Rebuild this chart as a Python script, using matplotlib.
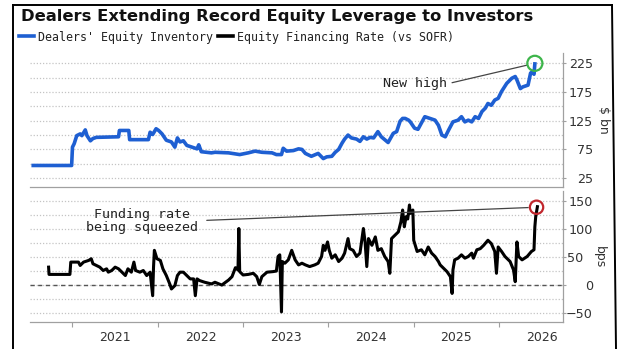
import matplotlib
matplotlib.use('Agg')
import matplotlib.pyplot as plt
from matplotlib.lines import Line2D
from matplotlib.ticker import MultipleLocator, FixedLocator, NullFormatter
from matplotlib.transforms import ScaledTranslation

W, H, DPI = 618, 349, 100

# dealers' equity inventory, $ bn (decimal year, value)
inv_t = [2020.54, 2020.99, 2021.00, 2021.02, 2021.05, 2021.09, 2021.11, 2021.15,
         2021.17, 2021.21, 2021.24, 2021.28, 2021.54, 2021.55, 2021.66, 2021.67,
         2021.89, 2021.91, 2021.94, 2021.98, 2022.01, 2022.05, 2022.10, 2022.16,
         2022.20, 2022.23, 2022.26, 2022.30, 2022.34, 2022.40, 2022.46, 2022.48,
         2022.51, 2022.63, 2022.67, 2022.83, 2022.96, 2023.06, 2023.14, 2023.22,
         2023.34, 2023.39, 2023.45, 2023.47, 2023.51, 2023.59, 2023.65, 2023.69,
         2023.73, 2023.80, 2023.88, 2023.94, 2023.98, 2024.04, 2024.08, 2024.12,
         2024.16, 2024.19, 2024.23, 2024.27, 2024.33, 2024.37, 2024.41, 2024.45,
         2024.49, 2024.53, 2024.58, 2024.62, 2024.70, 2024.76, 2024.80, 2024.84,
         2024.87, 2024.90, 2024.94, 2024.96, 2025.01, 2025.05, 2025.13, 2025.19,
         2025.25, 2025.29, 2025.33, 2025.37, 2025.41, 2025.46, 2025.52, 2025.56,
         2025.60, 2025.64, 2025.68, 2025.72, 2025.76, 2025.80, 2025.84, 2025.87,
         2025.91, 2025.95, 2025.99, 2026.03, 2026.09, 2026.15, 2026.19, 2026.21,
         2026.25, 2026.28, 2026.34, 2026.37, 2026.39, 2026.41, 2026.42]
inv_v = [47, 47, 79, 85, 99, 102, 99, 109,
         99, 90, 94, 96, 97, 108, 108, 92,
         92, 105, 101, 111, 108, 102, 91, 88,
         79, 95, 88, 90, 82, 79, 76, 83,
         71, 69, 70, 69, 66, 69, 72, 70,
         69, 66, 66, 77, 72, 73, 76, 75,
         68, 63, 68, 59, 62, 63, 70, 75,
         86, 93, 100, 95, 93, 89, 97, 93,
         96, 95, 106, 97, 87, 103, 106, 124,
         129, 129, 126, 123, 112, 110, 132, 129,
         126, 117, 100, 97, 109, 123, 126, 132,
         123, 126, 123, 132, 129, 141, 147, 155,
         152, 161, 164, 176, 190, 199, 202, 196,
         181, 184, 187, 208, 210, 206, 224]

# equity financing rate vs SOFR, bps (decimal year, value)
rate_t = [2020.72, 2020.725, 2020.97, 2020.98, 2021.07, 2021.09, 2021.13, 2021.19,
          2021.22, 2021.24, 2021.28, 2021.32, 2021.36, 2021.40, 2021.42, 2021.46,
          2021.50, 2021.54, 2021.58, 2021.62, 2021.65, 2021.69, 2021.72, 2021.74,
          2021.79, 2021.83, 2021.87, 2021.91, 2021.94, 2021.95, 2021.96, 2021.99,
          2022.03, 2022.06, 2022.10, 2022.14, 2022.16, 2022.20, 2022.23, 2022.26,
          2022.30, 2022.34, 2022.38, 2022.42, 2022.44, 2022.46, 2022.49, 2022.55,
          2022.63, 2022.67, 2022.75, 2022.83, 2022.87, 2022.91, 2022.94, 2022.95,
          2022.96, 2023.00, 2023.06, 2023.12, 2023.16, 2023.19, 2023.22, 2023.28,
          2023.35, 2023.39, 2023.41, 2023.43, 2023.45, 2023.46, 2023.49, 2023.53,
          2023.57, 2023.61, 2023.65, 2023.69, 2023.73, 2023.78, 2023.84, 2023.88,
          2023.92, 2023.94, 2023.96, 2023.99, 2024.01, 2024.04, 2024.08, 2024.12,
          2024.16, 2024.19, 2024.23, 2024.25, 2024.29, 2024.33, 2024.37, 2024.41,
          2024.43, 2024.45, 2024.47, 2024.51, 2024.55, 2024.58, 2024.62, 2024.66,
          2024.70, 2024.72, 2024.74, 2024.78, 2024.82, 2024.85, 2024.87, 2024.89,
          2024.91, 2024.93, 2024.95, 2024.96, 2024.99, 2025.00, 2025.04, 2025.09,
          2025.13, 2025.17, 2025.21, 2025.25, 2025.29, 2025.31, 2025.35, 2025.39,
          2025.43, 2025.45, 2025.46, 2025.48, 2025.52, 2025.56, 2025.60, 2025.64,
          2025.68, 2025.70, 2025.74, 2025.78, 2025.82, 2025.87, 2025.91, 2025.95,
          2025.97, 2025.99, 2026.03, 2026.07, 2026.13, 2026.17, 2026.19, 2026.21,
          2026.23, 2026.27, 2026.33, 2026.38, 2026.41, 2026.42, 2026.43, 2026.45]
rate_v = [32, 19, 19, 41, 41, 35, 41, 44,
          47, 38, 35, 32, 26, 29, 23, 26,
          32, 29, 23, 17, 29, 23, 41, 26,
          23, 26, 17, 23, -19, 32, 62, 47,
          44, 29, 17, 2, -7, -1, 17, 23,
          23, 17, 11, 11, -19, 11, 8, 5,
          2, 5, 0, 9, 15, 31, 27, 101,
          24, 18, 19, 21, 15, 1, 15, 23,
          24, 25, 51, 54, -48, 42, 39, 45,
          62, 45, 36, 39, 36, 33, 36, 39,
          51, 71, 62, 77, 62, 48, 54, 42,
          48, 57, 83, 65, 62, 51, 57, 101,
          77, 33, 83, 71, 86, 62, 65, 51,
          42, 21, 83, 89, 95, 113, 134, 104,
          122, 118, 143, 128, 134, 80, 60, 63,
          54, 68, 57, 51, 42, 36, 30, 24,
          15, -15, 27, 45, 48, 54, 48, 51,
          57, 48, 63, 65, 71, 80, 74, 60,
          21, 68, 60, 51, 42, 27, 6, 77,
          51, 45, 51, 60, 63, 104, 122, 140]

years = [2021, 2022, 2023, 2024, 2025, 2026]
year_labels = [str(y) for y in years]
inv_ticks = [25, 75, 125, 175, 225]
rate_ticks = [-50, 0, 50, 100, 150]

BLUE = '#1e5fd2'
GRID = '#c4c4c4'
AXIS = '#a0a0a0'
TEXT = '#333333'
MONO = 'DejaVu Sans Mono'

fig = plt.figure(figsize=(W / DPI, H / DPI), dpi=DPI)


def px_box(left, top, right, bottom):
    return [left / W, 1 - bottom / H, (right - left) / W, (bottom - top) / H]


ax1 = fig.add_axes(px_box(30, 53, 563, 187))
ax2 = fig.add_axes(px_box(30, 191, 563, 322), sharex=ax1)


def style_axis(ax, ticks, step):
    for side in ('top', 'left'):
        ax.spines[side].set_visible(False)
    for side in ('bottom', 'right'):
        ax.spines[side].set_color(AXIS)
        ax.spines[side].set_linewidth(0.9)
    ax.yaxis.tick_right()
    ax.yaxis.set_major_locator(FixedLocator(ticks))
    ax.yaxis.set_minor_locator(MultipleLocator(step))
    ax.grid(axis='y', which='both', color=GRID, linestyle=(0, (1, 1.5)),
            linewidth=0.9)
    ax.tick_params(axis='y', which='major', length=2.5, color=AXIS,
                   labelsize=9.2, labelcolor=TEXT, pad=19)
    ax.tick_params(axis='y', which='minor', length=0)
    for lab in ax.get_yticklabels():
        lab.set_horizontalalignment('right')
    ax.set_axisbelow(True)


style_axis(ax1, inv_ticks, 25)
style_axis(ax2, rate_ticks, 25)

# the 50 label steps aside for the unit label
nudge = ScaledTranslation(-10 / DPI, 0, fig.dpi_scale_trans)
for val, lab in zip(rate_ticks, ax2.get_yticklabels()):
    if val == 50:
        lab.set_transform(lab.get_transform() + nudge)

ax1.set_xlim(2020.502, 2026.75)
ax1.set_ylim(9.5, 243)
ax2.set_ylim(-66, 168)

# year ticks on the boundaries, labels centred on each year
ax2.xaxis.set_major_locator(FixedLocator(years))
ax2.xaxis.set_major_formatter(NullFormatter())
ax2.xaxis.set_minor_locator(FixedLocator([y + 0.5 for y in years]))
ax2.set_xticklabels(year_labels, minor=True)
ax2.tick_params(axis='x', which='major', length=3.5, color=AXIS, direction='out')
ax2.tick_params(axis='x', which='minor', length=0, labelsize=9, labelcolor=TEXT,
                pad=6.5)
ax1.tick_params(axis='x', which='both', length=0, labelbottom=False)

# zero line
ax2.axhline(0, color='#555555', linestyle=(0, (3, 2.5)), linewidth=1.0, zorder=1.5)

ax1.plot(inv_t, inv_v, color=BLUE, linewidth=2.6, solid_joinstyle='round', zorder=3)
ax2.plot(rate_t, rate_v, color='black', linewidth=2.2, solid_joinstyle='round',
         zorder=3)

# highlighted end points
ax1.scatter([inv_t[-1]], [225], s=118, facecolors='none', edgecolors='#3db54a',
            linewidths=1.6, zorder=4)
ax2.scatter([rate_t[-1] - 0.01], [139], s=92, facecolors='none',
            edgecolors='#c1272d', linewidths=1.6, zorder=4)

ax1.annotate('New high', xy=(inv_t[-1], 225), xytext=(2025.01, 189),
             ha='center', va='center', family=MONO, fontsize=9.6, color='#222222',
             arrowprops=dict(arrowstyle='-', color='#444444', lw=0.9,
                             shrinkA=2, shrinkB=6, relpos=(1, 0.5)))
ax2.annotate('Funding rate\nbeing squeezed', xy=(rate_t[-1] - 0.01, 139),
             xytext=(2021.82, 115), ha='center', va='center', family=MONO,
             fontsize=9.6, color='#222222', linespacing=1.0,
             arrowprops=dict(arrowstyle='-', color='#444444', lw=0.9,
                             shrinkA=4, shrinkB=6, relpos=(1, 0.5)))

# unit labels
fig.text(603 / W, 1 - 120 / H, '$ bn', rotation=270, ha='center', va='center',
         fontsize=9, color=TEXT)
fig.text(599 / W, 1 - 257 / H, 'bps', rotation=270, ha='center', va='center',
         fontsize=9, color=TEXT)

# title and legend
fig.text(21 / W, 1 - 16 / H, 'Dealers Extending Record Equity Leverage to Investors',
         ha='left', va='center', fontsize=11.8, fontweight='bold', color='#111111')
handles = [Line2D([], [], color=BLUE, linewidth=2.6),
           Line2D([], [], color='black', linewidth=2.6)]
fig.legend(handles, ["Dealers' Equity Inventory", 'Equity Financing Rate (vs SOFR)'],
           loc='center left', bbox_to_anchor=(19 / W, 1 - 37 / H), ncol=2,
           frameon=False, prop={'family': MONO, 'size': 8.4},
           handlelength=1.3, handletextpad=0.35, columnspacing=0.4,
           borderpad=0, borderaxespad=0, labelcolor='#222222')

# outer frame
for xs, ys in (((13, 13), (5, H)), ((13, 612), (5, 5)), ((612, 616), (5, H))):
    fig.add_artist(Line2D([x / W for x in xs], [1 - y / H for y in ys],
                          color='black', linewidth=1.4))

fig.savefig('out.png', dpi=DPI)
